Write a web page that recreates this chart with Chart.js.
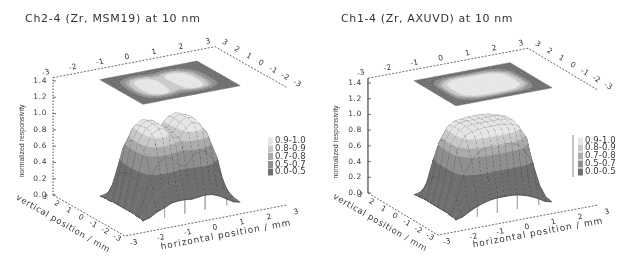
<!DOCTYPE html>
<html><head><meta charset="utf-8">
<script src="https://cdn.jsdelivr.net/npm/chart.js@4"></script>
<style>
html,body{margin:0;padding:0;background:#fff;width:635px;height:257px;overflow:hidden}
.p{position:absolute;top:0;height:257px;width:317px}
#a{left:0}#b{left:318px}
canvas{filter:blur(.35px)}
</style></head><body>
<div class="p" id="a"><canvas id="c1"></canvas></div>
<div class="p" id="b"><canvas id="c2"></canvas></div>
<script>
// ---- data ----
const titles = ["Ch2-4 (Zr, MSM19) at 10 nm", "Ch1-4 (Zr, AXUVD) at 10 nm"];
const axisTicks = [-3, -2, -1, 0, 1, 2, 3];
const zTicks = [0.0, 0.2, 0.4, 0.6, 0.8, 1.0, 1.2, 1.4];
const hGrid = [-1.8,-1.55,-1.3,-1,-.75,-.5,-.25,0,.25,.5,.75,1,1.3,1.55,1.8];
const vGrid = [-1.8,-1.55,-1.3,-1,-.75,-.5,-.25,0,.25,.5,.75,1,1.3,1.55,1.8];
const bandEdges = [0, 0.5, 0.7, 0.8, 0.9, 1.01];
const bandLabels = ["0.0-0.5", "0.5-0.7", "0.7-0.8", "0.8-0.9", "0.9-1.0"];
const bandColors = ["#6f6f6f", "#8f8f8f", "#ababab", "#c9c9c9", "#e6e6e6"];
const ch2Response = [
[.01,.03,.08,.12,.16,.17,.17,.16,.17,.18,.17,.14,.08,.03,.01],
[.02,.08,.22,.33,.38,.37,.33,.31,.36,.38,.36,.30,.18,.06,.02],
[.02,.18,.46,.62,.68,.64,.55,.52,.62,.68,.65,.55,.34,.12,.02],
[.03,.30,.66,.86,.93,.90,.80,.76,.88,.93,.90,.78,.52,.18,.03],
[.03,.36,.74,.93,.98,.96,.85,.82,.93,.98,.95,.84,.57,.21,.04],
[.03,.40,.78,.95,1.0,.97,.86,.83,.95,1.0,.97,.86,.60,.22,.04],
[.03,.42,.80,.96,1.0,.98,.87,.84,.96,1.0,.98,.87,.61,.23,.04],
[.03,.42,.80,.96,1.0,.98,.88,.85,.96,1.0,.98,.87,.61,.23,.04],
[.03,.41,.79,.95,1.0,.98,.89,.86,.97,1.0,.97,.86,.60,.23,.04],
[.03,.39,.76,.94,.99,.97,.89,.87,.96,1.0,.96,.85,.58,.22,.04],
[.03,.35,.71,.90,.96,.94,.86,.85,.94,.97,.93,.80,.53,.20,.03],
[.02,.28,.63,.82,.89,.87,.79,.77,.87,.90,.84,.70,.45,.16,.03],
[.02,.18,.44,.60,.66,.63,.56,.55,.63,.66,.61,.50,.31,.11,.02],
[.02,.08,.22,.32,.37,.36,.32,.31,.36,.37,.34,.27,.16,.06,.02],
[.01,.03,.07,.12,.16,.16,.15,.15,.16,.16,.15,.11,.07,.03,.01]];
const ch1Response = [
[.01,.03,.08,.13,.16,.18,.19,.19,.19,.18,.16,.13,.08,.03,.01],
[.02,.09,.25,.36,.41,.43,.44,.44,.44,.43,.41,.36,.25,.09,.02],
[.02,.19,.48,.66,.75,.79,.80,.80,.80,.79,.75,.66,.48,.19,.02],
[.03,.27,.63,.82,.92,.95,.96,.96,.96,.95,.92,.82,.63,.27,.03],
[.03,.32,.76,.93,.97,.98,.99,.99,.99,.98,.97,.93,.76,.32,.03],
[.03,.33,.79,.95,.98,.99,1.0,1.0,1.0,.99,.98,.95,.79,.33,.03],
[.03,.34,.80,.96,.99,1.0,1.0,1.0,1.0,1.0,.99,.96,.80,.34,.03],
[.03,.34,.80,.96,.99,1.0,1.0,1.0,1.0,1.0,.99,.96,.80,.34,.03],
[.03,.34,.80,.96,.99,1.0,1.0,1.0,1.0,1.0,.99,.96,.80,.34,.03],
[.03,.33,.78,.95,.98,.99,1.0,1.0,1.0,.99,.98,.95,.78,.33,.03],
[.03,.31,.75,.92,.97,.98,.99,.99,.99,.98,.96,.92,.75,.31,.03],
[.03,.26,.62,.81,.91,.94,.95,.95,.95,.94,.91,.81,.62,.26,.03],
[.02,.18,.46,.64,.73,.77,.78,.78,.78,.77,.73,.64,.46,.18,.02],
[.02,.09,.24,.35,.40,.42,.43,.43,.43,.42,.40,.35,.24,.09,.02],
[.01,.03,.08,.12,.15,.17,.18,.18,.18,.17,.15,.12,.08,.03,.01]];

// ---- view geometry for each panel ----
const views = [
 {padLeft:25, width:317, f:[125,236], hv:[27,-5.17], vv:[-12,-6.83], zs:81.5, top:1.44,
  z:ch2Response, legX:268, legY:[172,164.5,156.5,149,141], legLine:null, zSolid:false,
  zTitle:[22,141], hTitle:[226,235], hTitleAngle:-10.5, vTitle:[63,224], titleGap:'.72px'},
 {padLeft:23, width:317, f:[120,235], hv:[26.67,-5], vv:[-11.67,-7], zs:78.6, top:1.46,
  z:ch1Response, legX:260, legY:[172,164,156,148,141], legLine:[255,135,177], zSolid:true,
  zTitle:[18,142], hTitle:[220,233], hTitleAngle:-10.5, vTitle:[62,223], titleGap:'.62px'}
];

function clipBand(poly, lo, hi){
  const cut=(pts,keep,lev)=>{
    const out=[];
    for(let i=0;i<pts.length;i++){
      const a=pts[i],b=pts[(i+1)%pts.length];
      const ka=keep(a[2]),kb=keep(b[2]);
      if(ka)out.push(a);
      if(ka!==kb){const t=(lev-a[2])/(b[2]-a[2]);
        out.push([a[0]+t*(b[0]-a[0]),a[1]+t*(b[1]-a[1]),lev]);}
    }
    return out;
  };
  let p=cut(poly,z=>z>=lo,lo);
  if(p.length)p=cut(p,z=>z<=hi,hi);
  return p;
}

function makeProj(view){
  return (h,v,z)=>({x:view.f[0]+(h+3)*view.hv[0]+(v+3)*view.vv[0],
                    y:view.f[1]+(h+3)*view.hv[1]+(v+3)*view.vv[1]-z*view.zs});
}

function build(view){
  const proj=makeProj(view);
  const ds=[];
  const poly=(pts,fill,stroke,bw,dash)=>ds.push({type:'scatter',showLine:true,
     data:pts.concat([pts[0]]),fill:fill?'shape':false,backgroundColor:fill||'transparent',
     borderColor:stroke,borderWidth:bw,borderDash:dash||[],pointRadius:0,tension:0});
  const line=(pts,stroke,bw,dash)=>ds.push({type:'scatter',showLine:true,data:pts,fill:false,
     borderColor:stroke,borderWidth:bw,borderDash:dash||[],pointRadius:0,tension:0});
  const mx=axisTicks[axisTicks.length-1], mn=axisTicks[0];
  // frame
  line([proj(mn,mx,0),proj(mn,mn,0),proj(mx,mn,0)],'#444',.8,[2,1.5]);
  line([proj(mn,mx,view.top),proj(mx,mx,view.top),proj(mx,mn,view.top)],'#444',.8,[2,1.5]);
  line([proj(mn,mx,0),proj(mn,mx,view.top)],'#222',view.zSolid?1:.8,view.zSolid?[]:[1.5,1.5]);
  zTicks.forEach(t=>{const p=proj(mn,mx,t);line([p,{x:p.x+3,y:p.y}],'#333',.7);});
  // flat contour map on the top plane
  const n=hGrid.length;
  for(let j=0;j<n-1;j++)for(let i=0;i<n-1;i++){
    const q=[[hGrid[i],vGrid[j],view.z[j][i]],[hGrid[i+1],vGrid[j],view.z[j][i+1]],
             [hGrid[i+1],vGrid[j+1],view.z[j+1][i+1]],[hGrid[i],vGrid[j+1],view.z[j+1][i]]];
    bandColors.forEach((c,b)=>{
      const p=clipBand(q,bandEdges[b],bandEdges[b+1]);
      if(p.length>2)poly(p.map(r=>proj(r[0],r[1],view.top)),c,c,.5);
    });
  }
  // hanging lines under the front edge
  for(let i=0;i<n;i+=3){
    const a=proj(hGrid[i],vGrid[0],view.z[0][i]);
    line([a,proj(hGrid[i],vGrid[0],0)],'#aaa',.8);
  }
  // surface, back to front
  for(let j=n-2;j>=0;j--)for(let i=n-2;i>=0;i--){
    const q=[[hGrid[i],vGrid[j],view.z[j][i]],[hGrid[i+1],vGrid[j],view.z[j][i+1]],
             [hGrid[i+1],vGrid[j+1],view.z[j+1][i+1]],[hGrid[i],vGrid[j+1],view.z[j+1][i]]];
    bandColors.forEach((c,b)=>{
      const p=clipBand(q,bandEdges[b],bandEdges[b+1]);
      if(p.length>2)poly(p.map(r=>proj(r[0],r[1],r[2])),c,c,.5);
    });
    const P=q.map(r=>proj(r[0],r[1],r[2]));
    if(j%2===0)line([P[0],P[1]],'rgba(20,20,20,.6)',.7);
    line([P[0],P[3]],'rgba(10,10,10,.8)',.75,[2.5,2]);
  }
  return ds.reverse();
}

function labelPlugin(view){ const proj=makeProj(view); return {id:'labels',afterDraw(chart){
  const ctx=chart.ctx, sx=chart.scales.x, sy=chart.scales.y;
  const P=q=>[sx.getPixelForValue(q.x),sy.getPixelForValue(q.y)];
  const put=(s,x,y,deg,font,sp,align)=>{ctx.save();ctx.translate(x,y);ctx.rotate(deg*Math.PI/180);
    ctx.font=font;ctx.fillStyle='#3a3a3a';ctx.textAlign=align||'center';ctx.textBaseline='middle';
    if('letterSpacing' in ctx)ctx.letterSpacing=sp;ctx.fillText(s,0,0);ctx.restore();};
  const small='7.5px "DejaVu Sans"';
  const mn=axisTicks[0],mx=axisTicks[axisTicks.length-1];
  axisTicks.forEach(t=>{
    let p=P(proj(t,mn,0));put(String(t),p[0]+9,p[1]+7,-11,small,'.3px');
    p=P(proj(mn,t,0));put(String(t),p[0]-8,p[1]+2,30,small,'.3px');
    p=P(proj(t,mx,view.top));put(String(t),p[0]-7,p[1]-5,-11,small,'.3px');
    p=P(proj(mx,t,view.top));put(String(t),p[0]+10,p[1]-4,30,small,'.3px');
  });
  zTicks.forEach(t=>{const p=P(proj(mn,mx,t));
    put(t.toFixed(1),p[0]-6,p[1],0,small,'.6px','right');});
  put('normalized responsivity',P({x:view.zTitle[0],y:0})[0],P({x:0,y:view.zTitle[1]})[1],-90,'7px "Liberation Sans"','0px');
  put('horizontal position / mm',P({x:view.hTitle[0],y:0})[0],P({x:0,y:view.hTitle[1]})[1],view.hTitleAngle,'9px "DejaVu Sans"','.95px');
  put('vertical position / mm',P({x:view.vTitle[0],y:0})[0],P({x:0,y:view.vTitle[1]})[1],30,'8.5px "DejaVu Sans"','.65px');
  bandLabels.forEach((l,i)=>{
    const x=P({x:view.legX,y:0})[0],y=P({x:0,y:view.legY[i]})[1];
    ctx.fillStyle=bandColors[i];ctx.fillRect(x,y-3.5,5,7);
    put(l,x+7,y,0,'8.5px "DejaVu Sans"','.1px','left');
  });
  if(view.legLine){const x=P({x:view.legLine[0],y:0})[0];
    ctx.strokeStyle='#888';ctx.lineWidth=1;ctx.beginPath();
    ctx.moveTo(x,P({x:0,y:view.legLine[1]})[1]);ctx.lineTo(x,P({x:0,y:view.legLine[2]})[1]);ctx.stroke();}
}};}

Chart.defaults.font.family='"DejaVu Sans"';
[["c1",0],["c2",1]].forEach(([id,k])=>{
  const view=views[k];
  new Chart(document.getElementById(id),{
    type:'scatter',
    data:{datasets:build(view)},
    plugins:[labelPlugin(view),{id:'sp',beforeDraw(c){if('letterSpacing' in c.ctx)c.ctx.letterSpacing=view.titleGap;}}],
    options:{responsive:true,maintainAspectRatio:false,animation:false,
      events:[],
      layout:{padding:{left:view.padLeft,right:0,top:0,bottom:0}},
      scales:{x:{type:'linear',display:false,min:view.padLeft,max:view.width},
              y:{type:'linear',display:false,min:30,max:257,reverse:true}},
      plugins:{legend:{display:false},tooltip:{enabled:false},
        title:{display:true,text:titles[k],align:'start',color:'#333',
          font:{size:11,weight:'normal',lineHeight:1.2},padding:{top:12.5,bottom:4.3}}}}
  });
});
</script>
</body></html>
